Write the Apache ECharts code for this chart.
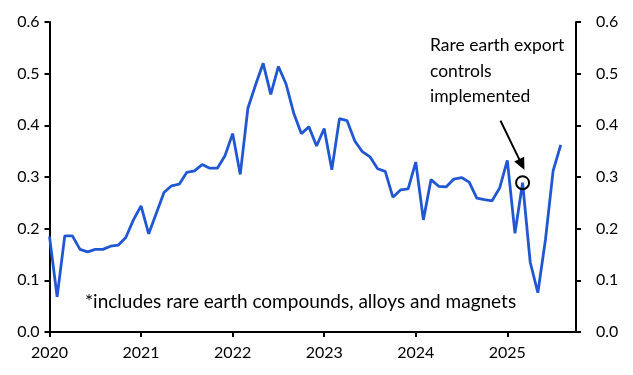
<!DOCTYPE html>
<html>
<head>
<meta charset="utf-8">
<script src="https://cdn.jsdelivr.net/npm/echarts@6/dist/echarts.min.js"></script>
<style>
html,body{margin:0;padding:0;background:#fff;}
#c{width:633px;height:375px;}
</style>
</head>
<body>
<div id="c"></div>
<script>
// Months covered by the series (Jan 2020 - Aug 2025)
const months = [];
for (let y = 2020; y <= 2025; y++) for (let m = 1; m <= 12; m++) {
  if (y === 2025 && m > 8) break;
  months.push(y + '-' + String(m).padStart(2, '0'));
}
const values = [
  0.185, 0.068, 0.186, 0.186, 0.160, 0.155, 0.160, 0.160, 0.166, 0.168, 0.183, 0.217,
  0.244, 0.190, 0.230, 0.270, 0.283, 0.286, 0.309, 0.312, 0.324, 0.317, 0.317, 0.341,
  0.384, 0.305, 0.433, 0.478, 0.520, 0.460, 0.514, 0.480, 0.424, 0.384, 0.397, 0.360,
  0.394, 0.314, 0.413, 0.409, 0.370, 0.349, 0.339, 0.316, 0.311, 0.261, 0.275, 0.277,
  0.329, 0.217, 0.295, 0.282, 0.281, 0.296, 0.299, 0.290, 0.259, 0.256, 0.254, 0.279,
  0.332, 0.191, 0.289, 0.135, 0.076, 0.179, 0.312, 0.362
];
const yearLabels = ['2020', '2021', '2022', '2023', '2024', '2025'];
const yTicks = ['0.0', '0.1', '0.2', '0.3', '0.4', '0.5', '0.6'];
const annotationText = 'Rare earth export\ncontrols\nimplemented';
const footnote = '*includes rare earth compounds, alloys and magnets';
const eventMonth = '2025-03';

const FONT = 'Lato';
const eventIdx = months.indexOf(eventMonth);
const eventVal = values[eventIdx];

const chart = echarts.init(document.getElementById('c'), null, {renderer: 'canvas'});

function yAxis(pos, margin) {
  return {
    type: 'value', position: pos, min: 0, max: 0.6, interval: 0.1,
    splitLine: {show: false},
    axisLine: {show: true, lineStyle: {color: '#000', width: 2}},
    axisTick: {show: true, length: 5, lineStyle: {color: '#000', width: 2}},
    axisLabel: {color: '#000', fontFamily: FONT, fontSize: 16, margin: margin,
      formatter: v => yTicks[Math.round(v * 10)]}
  };
}

chart.setOption({
  animation: false,
  grid: {left: 49.5, right: 57, top: 22, bottom: 43},
  xAxis: {
    type: 'value', min: 0, max: 69, interval: 12,
    splitLine: {show: false},
    axisLine: {show: true, onZero: false, lineStyle: {color: '#000', width: 2}},
    axisTick: {show: true, length: 5, lineStyle: {color: '#000', width: 2}},
    axisLabel: {color: '#000', fontFamily: FONT, fontSize: 16, margin: 13,
      showMaxLabel: false,
      formatter: v => yearLabels[Math.round(v / 12)] || ''}
  },
  yAxis: [yAxis('left', 10), yAxis('right', 20)],
  series: [{
    type: 'line',
    data: values.map((v, i) => [i, v]),
    showSymbol: false,
    lineStyle: {color: '#2158D2', width: 2.8},
    itemStyle: {color: '#2158D2'},
    markPoint: {
      silent: true,
      data: [{coord: [eventIdx, eventVal], symbol: 'circle', symbolSize: 13,
        itemStyle: {color: 'rgba(0,0,0,0)', borderColor: '#000', borderWidth: 2},
        label: {show: false}}]
    },
    markLine: {
      silent: true,
      symbol: ['none', 'triangle'],
      symbolSize: [11, 12],
      label: {show: false},
      lineStyle: {color: '#000', width: 2, type: 'solid'},
      data: [[{coord: [eventIdx - 2.9, eventVal + 0.12]}, {coord: [eventIdx - 0.1, eventVal + 0.035]}]]
    }
  }],
  graphic: [
    {type: 'text', left: 430, top: 33,
      style: {text: annotationText, fill: '#000', font: '17.5px ' + FONT, lineHeight: 25.5}},
    {type: 'text', left: 85, top: 292,
      style: {text: footnote, fill: '#000', font: '19px ' + FONT}}
  ]
});
</script>
</body>
</html>
